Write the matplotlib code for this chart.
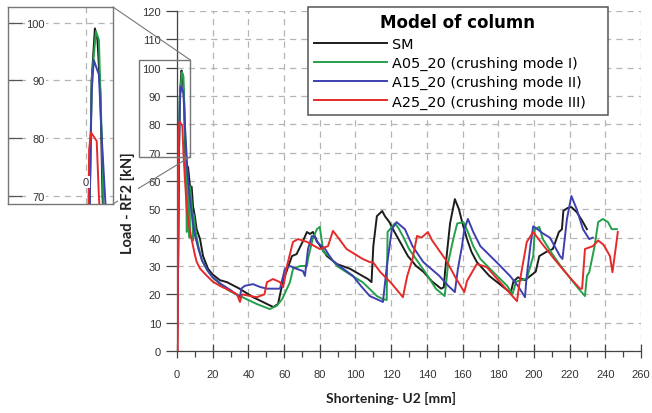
import matplotlib

matplotlib.use("Agg")
import matplotlib.pyplot as plt
from matplotlib.patches import Rectangle, ConnectionPatch
from matplotlib.ticker import MultipleLocator

# Load - shortening curves (mm, kN)
sm_x = [0, 0.6, 1.1, 1.6, 2.5, 3.2, 4.0, 4.6, 5.2, 6.2, 7.3, 8.2, 9.0, 10.0, 11.0, 12.9, 14.6, 17.4,
        20, 24, 28, 35, 42.6, 50.4, 54, 56.6, 58.8, 60.5, 64.4, 67, 70.6, 72.8, 74.5, 76.2, 78.4,
        84, 89.6, 97, 102.5, 107, 109, 110, 112, 115, 116.5, 119, 121, 125, 129.4, 134, 138, 143,
        148, 149.5, 150.2, 151.5, 153, 155.7, 158, 160, 162.5, 165, 168, 175, 182, 187, 188.5,
        191, 195, 198, 201, 203, 207, 210.6, 214, 215.7, 216.5, 219, 221, 224, 227, 229.7]
sm_y = [0, 30, 70, 90, 99, 97, 88, 70, 62, 65, 58, 58, 51, 47.6, 43, 39.5, 33.5, 29,
        27, 25, 24.3, 22, 19, 16.6, 15.5, 16.6, 23, 26.5, 33.5, 34.2, 38.8, 42, 41.3, 42, 38.8,
        33.5, 30.7, 29, 27, 25.4, 24.3, 37, 47.6, 49.4, 47.6, 45.5, 43, 38.5, 33.5, 30, 28, 24.5,
        22, 22.5, 28, 36, 45, 53.6, 50, 45, 39.5, 35, 31.4, 26.5, 23, 20.5, 24.5,
        26, 25, 26.5, 28, 33.5, 35, 36, 42, 43, 49.5, 50.5, 50.8, 49, 46, 43]

a05_x = [0, 0.6, 1.1, 1.6, 2.8, 3.6, 4.4, 5.0, 5.5, 5.8, 6.5, 7.0, 7.4, 8.5, 9.0, 9.4, 10.5, 12,
         14, 17, 20, 25, 30, 35, 40, 45, 52, 56, 59, 63.3, 65, 69, 72.8, 73.4, 76, 78.4, 80, 81,
         82, 86, 89.6, 97, 104, 112, 115, 117.5, 118, 122, 124, 127, 130, 135, 140, 145, 150,
         151, 152, 155, 157, 160.5, 163, 166, 170, 177, 185, 188, 190, 196, 199.6, 200.5, 203,
         205, 210, 215, 220, 225, 228.6, 229.7, 231, 234, 236, 238.6, 241.5, 243.6, 246.5]
a05_y = [0, 30, 70, 90, 98.5, 97, 80, 65, 42, 62, 58, 40, 58, 50, 39, 48, 42, 37,
         32, 28.5, 26, 23, 21, 19.5, 18, 16.5, 14.8, 16, 18.4, 24.3, 29, 30, 30, 32.5, 39.5, 43, 43.8, 39.5,
         35, 33, 30, 27, 24.3, 19.4, 18.4, 18, 42, 45, 43.5, 40, 36, 31.5, 27, 22, 19.4,
         25, 31.4, 40, 45, 45.5, 42, 37, 32.5, 28, 23, 20, 24.5, 25.5, 33.5, 43, 43.8,
         39.5, 34.5, 30, 26, 22, 19.4, 26.5, 27.8, 37, 45.5, 46.6, 45.5, 43, 43]

a15_x = [0, 0.6, 1.1, 1.6, 2.2, 3.6, 4.4, 5.3, 6, 7, 8, 9, 10, 12, 14, 17, 20, 25, 30, 35.3,
         36, 38, 42.6, 46.5, 50.4, 57.7, 60.5, 63.3, 67, 70.6, 71.7, 73.4, 75.6, 77.3, 78.4, 83,
         87, 91, 98.6, 103, 108, 115.4, 117.6, 120.4, 123, 127.7, 132, 138, 147, 152, 155.7,
         157.4, 159.7, 161, 163, 166, 170, 179, 186.6, 191, 195, 195.8, 198, 199.6, 202, 205,
         209, 212, 214.6, 216, 218.5, 221, 224, 227.5, 231, 233]
a15_y = [0, 30, 70, 88, 93.5, 91, 80, 70, 62, 55, 50, 45, 41, 36, 32, 28.5, 26, 23.5, 21.5, 19,
         22, 23, 23.6, 22.6, 22, 22, 29, 30, 29, 28.2, 26.5, 36, 40.6, 40.2, 38.5, 36,
         32, 30, 26.5, 23, 19.4, 17.3, 30, 43, 45.5, 43, 37, 31.4, 26.5, 23, 20.8,
         29, 37, 43, 46.6, 42, 37, 31.4, 26.5, 23, 19, 25.4, 37, 44, 43, 41.5,
         40, 36.5, 33.5, 32.5, 46.6, 54.7, 50, 43, 39.5, 40]

a25_x = [0, 0.4, 0.6, 0.9, 1.4, 3.0, 3.6, 4.5, 5.5, 6.5, 8, 9, 10, 11, 13, 16.8, 20, 24, 30,
         33.6, 35.3, 36.4, 41, 44.8, 49, 50.4, 53.8, 57.7, 59.5, 61.6, 65, 67.8, 72.8, 80, 84.6,
         87.4, 89.6, 95, 104, 108, 110, 114, 120, 126.6, 129, 132, 134.5, 137, 140.6, 143, 151,
         156, 161, 162.5, 168, 173.6, 181, 190.5, 192, 196, 199.6, 205, 212, 220, 225.8, 227,
         228.6, 233, 236, 239, 242.6, 244, 246.5, 247]
a25_y = [0, 0, 60, 78, 81, 79.5, 70, 60, 50, 45, 40, 37, 34, 31.5, 29, 26.5, 24.5, 23, 21.2,
         20, 17.3, 20, 19.4, 19, 20, 24.3, 25.4, 24.3, 22.5, 30, 38.5, 39.5, 38.5, 36, 37,
         42.4, 40.6, 36, 32.5, 31.4, 31.2, 27.8, 24, 19, 26.5, 32.5, 40.6, 40, 42, 39, 31.8,
         26, 20.8, 24.7, 30.7, 29.6, 24.3, 17.6, 24.3, 38.5, 42, 37.5, 32, 26, 22, 22,
         36, 37, 39, 37.5, 33.5, 27.8, 39.5, 42]

labels = ["SM", "A05_20 (crushing mode I)", "A15_20 (crushing mode II)", "A25_20 (crushing mode III)"]
colors = ["#1c1c1c", "#25a04a", "#3e40b0", "#e62a2a"]
series = [(sm_x, sm_y), (a05_x, a05_y), (a15_x, a15_y), (a25_x, a25_y)]

# zoomed window
zoom_x = (-21.5, 7.5)
zoom_y = (68.6, 102.7)

plt.rcParams["font.family"] = ["Liberation Sans", "DejaVu Sans"]
grid_kw = dict(color="#b5b5b5", linestyle=(0, (5, 4)), linewidth=0.9)

fig = plt.figure(figsize=(6.52, 4.14), dpi=100)
ax = fig.add_axes([177 / 652, 1 - 352 / 414, 464 / 652, 340 / 414])

for (xs, ys), c, lab in zip(series, colors, labels):
    ax.plot(xs, ys, color=c, lw=1.4, label=lab, zorder=3)

ax.set_xlim(0, 260)
ax.set_ylim(0, 120)
ax.xaxis.set_major_locator(MultipleLocator(20))
ax.xaxis.set_minor_locator(MultipleLocator(10))
ax.yaxis.set_major_locator(MultipleLocator(10))
ax.grid(True, **grid_kw)
ax.set_axisbelow(True)
for side in ["top", "right"]:
    ax.spines[side].set_visible(False)
for side in ["left", "bottom"]:
    ax.spines[side].set_color("#444444")
    ax.spines[side].set_linewidth(0.9)
ax.tick_params(axis="x", which="major", direction="inout", length=10, width=0.9,
               color="#444444", labelsize=8, labelcolor="#333333", pad=8)
ax.tick_params(axis="x", which="minor", direction="out", length=4, width=0.9, color="#444444")
ax.tick_params(axis="y", direction="out", length=8, width=0.9, color="#444444",
               labelsize=8, labelcolor="#333333", pad=3.5)

leg = ax.legend(loc="upper left", bbox_to_anchor=(0.282, 0.703, 0.647, 0.309), mode="expand",
                title="Model of column",
                title_fontproperties={"weight": "bold", "size": 12, "family": "DejaVu Sans"},
                prop={"family": "DejaVu Sans", "size": 10.4},
                handlelength=5.0, handletextpad=0.4, labelspacing=0.36,
                borderpad=0.45, borderaxespad=0.0, fancybox=False, framealpha=1,
                edgecolor="#555555")
leg.get_frame().set_linewidth(1.1)

# zoom rectangle on the main axes
ax.add_patch(Rectangle((zoom_x[0], zoom_y[0]), zoom_x[1] - zoom_x[0], zoom_y[1] - zoom_y[0],
                       fill=False, edgecolor="#777777", lw=1.0, clip_on=False, zorder=4))

# inset
ins = fig.add_axes([8 / 652, 1 - 205 / 414, 105 / 652, 197 / 414])
for (xs, ys), c in zip(series, colors):
    ins.plot(xs, ys, color=c, lw=1.4, zorder=3)
ins.set_xlim(*zoom_x)
ins.set_ylim(*zoom_y)
ins.set_yticks([70, 80, 90, 100])
ins.set_xticks([0])
ins.grid(True, **grid_kw)
ins.set_axisbelow(True)
ins.tick_params(axis="x", length=0, labelbottom=False)
ins.tick_params(axis="y", direction="in", length=10, width=0.9, color="#555555",
                labelsize=8, labelcolor="#333333", pad=-26.5)
for lab in ins.get_yticklabels():
    lab.set_bbox(dict(facecolor="white", edgecolor="none", pad=1))
for sp in ins.spines.values():
    sp.set_color("#777777")
    sp.set_linewidth(1.0)
ins.text(0, 72.4, "0", fontsize=8, color="#333333", ha="center", va="center",
         bbox=dict(facecolor="white", edgecolor="none", pad=0.5), zorder=5)

for ya, yb in [(1, zoom_y[1]), (0, zoom_y[0])]:
    con = ConnectionPatch(xyA=(1, ya), coordsA=ins.transAxes, xyB=(zoom_x[1], yb),
                          coordsB=ax.transData, color="#777777", lw=0.8)
    fig.add_artist(con)

fig.text(128 / 652, 1 - 203 / 414, "Load - RF2 [kN]", rotation=90, ha="center", va="center",
         fontsize=10.5, fontweight="bold", family=["Lato", "DejaVu Sans"], color="#222222",
         bbox=dict(facecolor="white", edgecolor="none", pad=2))
fig.text(391 / 652, 1 - 398 / 414, "Shortening- U2 [mm]", ha="center", va="center",
         fontsize=10, fontweight="bold", family=["Lato", "DejaVu Sans"], color="#222222")

fig.savefig("out.png", dpi=100)
